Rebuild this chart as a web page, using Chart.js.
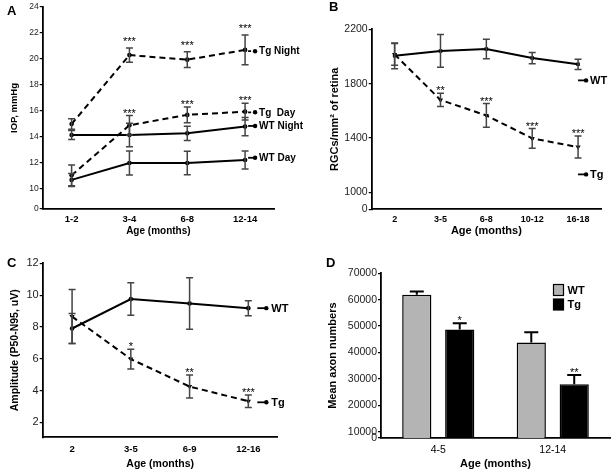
<!DOCTYPE html>
<html><head><meta charset="utf-8">
<script src="https://cdn.jsdelivr.net/npm/chart.js@4.4.1/dist/chart.umd.min.js"></script>
<style>
html,body{margin:0;padding:0;background:#fff;}
#wrap{position:relative;width:612px;height:471px;overflow:hidden;}
canvas{position:absolute;}
</style></head><body><div id="wrap">
<canvas id="cA" width="312" height="240" style="left:0;top:0"></canvas>
<canvas id="cB" width="306" height="240" style="left:306px;top:0"></canvas>
<canvas id="cC" width="306" height="231" style="left:0;top:240px"></canvas>
<canvas id="cD" width="306" height="231" style="left:306px;top:240px"></canvas>
</div>
<script>
// ---------- Panel A: IOP ----------
const ageA = ['1-2', '3-4', '6-8', '12-14'];
const iopTgNight = [15.0, 20.3, 19.95, 20.7];
const iopTgNightErr = [0.4, 0.55, 0.6, 1.15];
const iopTgDay = [11.05, 14.9, 15.7, 15.95];
const iopTgDayErr = [0.8, 0.75, 0.6, 0.65];
const iopWtNight = [14.15, 14.15, 14.28, 14.8];
const iopWtNightErr = [0.35, 0.9, 0.55, 0.7];
const iopWtDay = [10.7, 12.0, 12.0, 12.23];
const iopWtDayErr = [0.5, 0.93, 0.9, 0.7];
const sigTgNightA = ['', '***', '***', '***'];
const sigTgDayA = ['', '***', '***', '***'];
const yTicksA = [0, 10, 12, 14, 16, 18, 20, 22, 24];

// ---------- Panel B: RGC density ----------
const ageB = ['2', '3-5', '6-8', '10-12', '16-18'];
const rgcWt = [2005, 2041, 2055, 1988, 1942];
const rgcWtErr = [95, 120, 71, 41, 37];
const rgcTg = [2015, 1680, 1566, 1397, 1333];
const rgcTgErr = [80, 49, 87, 72, 81];
const sigTgB = ['', '**', '***', '***', '***'];
const yTicksB = [0, 1000, 1400, 1800, 2200];

// ---------- Panel C: PERG amplitude ----------
const ageC = ['2', '3-5', '6-9', '12-16'];
const ampWt = [7.9, 9.75, 9.47, 9.18];
const ampWtErr = [0.95, 1.02, 1.62, 0.47];
const ampTg = [8.65, 5.98, 4.25, 3.33];
const ampTgErr = [1.7, 0.62, 0.72, 0.39];
const sigTgC = ['', '*', '**', '***'];
const yTicksC = [2, 4, 6, 8, 10, 12];

// ---------- Panel D: axon counts ----------
const ageD = ['4-5', '12-14'];
const axonWt = [61900, 43800];
const axonWtErr = [1250, 3900];
const axonTg = [48750, 28000];
const axonTgErr = [2300, 3500];
const sigTgD = ['*', '**'];
const yTicksD = [0, 10000, 20000, 30000, 40000, 50000, 60000, 70000];

const FONT = "'Liberation Sans', Arial, sans-serif";

// error bars + significance stars
const errPlugin = {
  id: 'errbars',
  afterDatasetsDraw(chart, args, opts) {
    const ctx = chart.ctx, ys = chart.scales.y;
    chart.data.datasets.forEach((ds, di) => {
      if (!ds.err) return;
      const meta = chart.getDatasetMeta(di);
      meta.data.forEach((el, i) => {
        const v = ds.data[i], e = ds.err[i];
        const x = el.x;
        const yTop = ys.getPixelForValue(v + e);
        const yBot = ys.getPixelForValue(ds.half ? v : v - e);
        const cw = opts.cap || 3.5;
        ctx.save();
        ctx.strokeStyle = opts.color || '#444';
        ctx.lineWidth = opts.width || 1.5;
        ctx.beginPath();
        ctx.moveTo(x, yTop); ctx.lineTo(x, yBot);
        ctx.moveTo(x - cw, yTop); ctx.lineTo(x + cw, yTop);
        if (!ds.half) { ctx.moveTo(x - cw, yBot); ctx.lineTo(x + cw, yBot); }
        ctx.stroke();
        if (ds.sig && ds.sig[i]) {
          ctx.fillStyle = '#000';
          ctx.font = '11px ' + FONT;
          ctx.textAlign = 'center';
          ctx.textBaseline = 'alphabetic';
          ctx.fillText(ds.sig[i], x, yTop + 1 - (ds.sigGap || 0));
        }
        ctx.restore();
      });
    });
  }
};

// series tags at line ends and panel letters / legends
const tagPlugin = {
  id: 'tags',
  afterDraw(chart, args, opts) {
    const ctx = chart.ctx;
    const xs = chart.scales.x, ys = chart.scales.y;
    const n = chart.data.labels.length;
    const xl = xs.getPixelForValue(n - 1);
    (opts.items || []).forEach(it => {
      const y = ys.getPixelForValue(it.y);
      const x0 = xl + opts.dx, x1 = x0 + opts.len;
      ctx.save();
      ctx.strokeStyle = '#000'; ctx.lineWidth = 1.8;
      ctx.setLineDash(it.dash ? [3, 2] : []);
      ctx.beginPath(); ctx.moveTo(x0, y); ctx.lineTo(x1, y); ctx.stroke();
      ctx.setLineDash([]);
      ctx.fillStyle = '#000';
      ctx.beginPath(); ctx.arc(x1 - 1, y, 2.2, 0, Math.PI * 2); ctx.fill();
      ctx.font = 'bold ' + (opts.size || 10) + 'px ' + FONT;
      ctx.textAlign = 'left'; ctx.textBaseline = 'middle';
      ctx.fillText(it.text, x1 + opts.gap, y + 0.5);
      ctx.restore();
    });
    if (opts.letter) {
      ctx.save();
      ctx.fillStyle = '#000';
      ctx.font = 'bold 13px ' + FONT;
      ctx.textAlign = 'left'; ctx.textBaseline = 'middle';
      ctx.fillText(opts.letter.t, opts.letter.x, opts.letter.y);
      ctx.restore();
    }
    if (opts.legend) {
      const lg = opts.legend;
      ctx.save();
      lg.items.forEach((it, k) => {
        const by = lg.y + k * 14.5;
        ctx.fillStyle = it.fill;
        ctx.fillRect(lg.x, by, 10, 11);
        ctx.strokeStyle = '#000'; ctx.lineWidth = 1.2;
        ctx.strokeRect(lg.x, by, 10, 11);
        ctx.fillStyle = '#000';
        ctx.font = 'bold 11px ' + FONT;
        ctx.textAlign = 'left'; ctx.textBaseline = 'middle';
        ctx.fillText(it.text, lg.x + 14, by + 6);
      });
      ctx.restore();
    }
  }
};

function yAxis(c) {
  return {
    type: 'linear', min: c.min, max: c.max,
    grid: { display: true, drawOnChartArea: false, drawTicks: true, tickLength: 3, color: '#000', lineWidth: 1.2 },
    border: { display: true, color: '#000', width: 1.8 },
    ticks: {
      font: { family: FONT, size: c.tickSize }, color: '#222', padding: 1,
      callback: (v, i) => String(c.labels[i])
    },
    afterBuildTicks: s => {
      s.ticks = c.labels.map((v, i) => ({ value: (i === 0 && c.brk) ? c.min : v }));
    },
    title: { display: true, text: c.title, color: '#000', font: { family: FONT, size: c.titleSize, weight: 'bold' }, padding: { top: c.titlePad, bottom: 0 } },
    afterFit: s => { s.width = c.w; }
  };
}
function xAxis(c) {
  return {
    type: 'category', offset: true,
    grid: { display: false, drawTicks: false },
    border: { display: true, color: '#000', width: 1.8 },
    ticks: { font: { family: FONT, size: c.tickSize, weight: c.tickBold ? 'bold' : 'normal' }, color: '#000', padding: c.tickPad, maxRotation: 0, autoSkip: false },
    title: { display: true, text: 'Age (months)', color: '#000', font: { family: FONT, size: c.titleSize, weight: 'bold' }, padding: { top: 0, bottom: c.titlePad } },
    afterFit: s => { s.height = c.h; }
  };
}
function lineDs(data, err, dashed, sig, extra) {
  return Object.assign({
    data: data, err: err, sig: sig,
    borderColor: '#000', backgroundColor: '#000', borderWidth: 2,
    borderDash: dashed ? [6, 4] : [], pointRadius: 2.3, pointBorderWidth: 0,
    pointBackgroundColor: '#000', tension: 0, fill: false
  }, extra || {});
}
function baseOpts(pad, x, y, tags) {
  return {
    responsive: false, animation: false, events: [],
    layout: { padding: pad },
    plugins: { legend: { display: false }, tooltip: { enabled: false }, tags: tags, errbars: { cap: 3.5 } },
    scales: { x: x, y: y }
  };
}

// Panel A
new Chart(document.getElementById('cA'), {
  type: 'line',
  data: {
    labels: ageA,
    datasets: [
      lineDs(iopTgNight, iopTgNightErr, true, sigTgNightA, { sigGap: 4 }),
      lineDs(iopTgDay, iopTgDayErr, true, sigTgDayA),
      lineDs(iopWtNight, iopWtNightErr, false, null),
      lineDs(iopWtDay, iopWtDayErr, false, null)
    ]
  },
  options: baseOpts({ left: 0, top: 7, right: 38, bottom: 0 },
    xAxis({ tickSize: 9.5, tickBold: true, tickPad: 5, titleSize: 10, titlePad: 3, h: 31 }),
    yAxis({ min: 8.46, max: 24, labels: yTicksA, brk: true, tickSize: 8.5, title: 'IOP, mmHg', titleSize: 9.5, titlePad: 9, w: 42.7 }),
    { dx: 3, len: 8, gap: 3, size: 10,
      letter: { t: 'A', x: 7, y: 11 },
      items: [
        { text: 'Tg Night', y: 20.6, dash: true },
        { text: 'Tg  Day', y: 15.9, dash: true },
        { text: 'WT Night', y: 14.85, dash: false },
        { text: 'WT Day', y: 12.4, dash: false }
      ] }),
  plugins: [errPlugin, tagPlugin]
});

// Panel B
new Chart(document.getElementById('cB'), {
  type: 'line',
  data: {
    labels: ageB,
    datasets: [
      lineDs(rgcWt, rgcWtErr, false, null, { pointStyle: 'rect', pointRadius: 2.5 }),
      lineDs(rgcTg, rgcTgErr, true, sigTgB, { pointStyle: 'triangle', rotation: 180, pointRadius: 3 })
    ]
  },
  options: baseOpts({ left: 0, top: 29.3, right: 11, bottom: 0 },
    xAxis({ tickSize: 9, tickBold: true, tickPad: 5, titleSize: 11, titlePad: 2, h: 30.7 }),
    yAxis({ min: 875, max: 2200, labels: yTicksB, brk: true, tickSize: 10.5, title: 'RGCs/mm² of retina', titleSize: 11, titlePad: 22, w: 65.7 }),
    { dx: 0, len: 9, gap: 3, size: 11,
      letter: { t: 'B', x: 23, y: 7 },
      items: [
        { text: 'WT', y: 1824, dash: false },
        { text: 'Tg', y: 1132, dash: false }
      ] }),
  plugins: [errPlugin, tagPlugin]
});

// Panel C
new Chart(document.getElementById('cC'), {
  type: 'line',
  data: {
    labels: ageC,
    datasets: [
      lineDs(ampWt, ampWtErr, false, null),
      lineDs(ampTg, ampTgErr, true, sigTgC, { pointStyle: 'triangle', rotation: 180, pointRadius: 3 })
    ]
  },
  options: baseOpts({ left: 0, top: 23.3, right: 28.3, bottom: 0 },
    xAxis({ tickSize: 9.5, tickBold: true, tickPad: 6, titleSize: 10.5, titlePad: 0.5, h: 33.7 }),
    yAxis({ min: 1.06, max: 12, labels: yTicksC, brk: false, tickSize: 11, title: 'Amplitude (P50-N95, uV)', titleSize: 10.5, titlePad: 9, w: 42.7 }),
    { dx: 9, len: 10, gap: 4, size: 11,
      letter: { t: 'C', x: 7, y: 23 },
      items: [
        { text: 'WT', y: 9.18, dash: false },
        { text: 'Tg', y: 3.26, dash: false }
      ] }),
  plugins: [errPlugin, tagPlugin]
});

// Panel D
new Chart(document.getElementById('cD'), {
  type: 'bar',
  data: {
    labels: ageD,
    datasets: [
      { data: axonWt, err: axonWtErr, half: true, backgroundColor: '#b4b4b4', borderColor: '#000', borderWidth: 1.5, categoryPercentage: 0.75, barPercentage: 0.68 },
      { data: axonTg, err: axonTgErr, half: true, sig: sigTgD, backgroundColor: '#000', borderColor: '#000', borderWidth: 1.5, categoryPercentage: 0.75, barPercentage: 0.68 }
    ]
  },
  options: (() => {
    const o = baseOpts({ left: 0, top: 33.3, right: 2, bottom: 0 },
      xAxis({ tickSize: 10.5, tickBold: false, tickPad: 6, titleSize: 11, titlePad: 0.5, h: 33 }),
      yAxis({ min: 7600, max: 70000, labels: yTicksD, brk: true, tickSize: 10.5, title: 'Mean axon numbers', titleSize: 11, titlePad: 20, w: 75 }),
      { dx: 0, len: 0, gap: 0, items: [],
        letter: { t: 'D', x: 20, y: 23 },
        legend: { x: 247.5, y: 44.5, items: [{ text: 'WT', fill: '#b4b4b4' }, { text: 'Tg', fill: '#000' }] } });
    o.plugins.errbars = { cap: 7, color: '#000', width: 2 };
    return o;
  })(),
  plugins: [errPlugin, tagPlugin]
});
</script>
</body></html>
